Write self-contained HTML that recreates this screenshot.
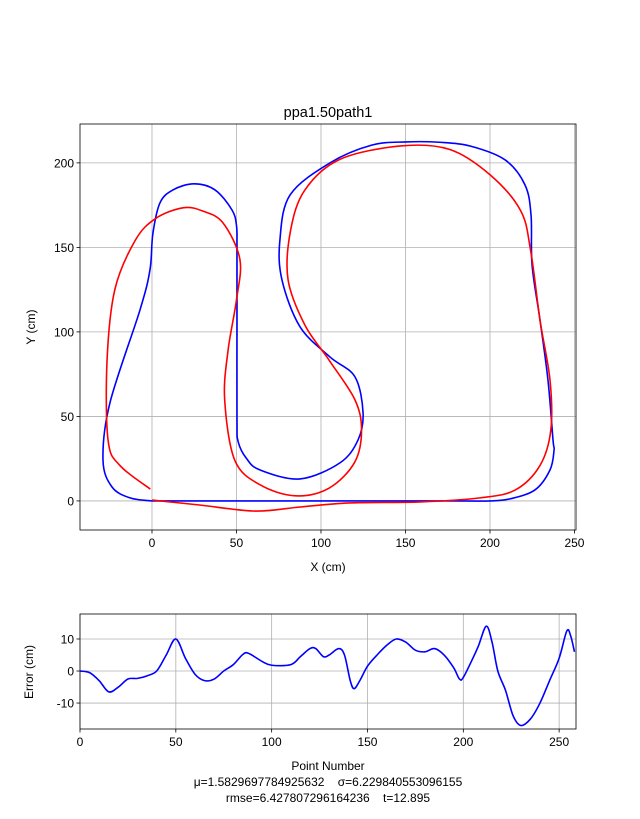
<!DOCTYPE html>
<html><head><meta charset="utf-8"><style>
body{margin:0;background:#fff;}
svg{display:block;font-family:"Liberation Sans","DejaVu Sans",sans-serif;}
</style></head><body>
<svg id="fig" width="640" height="819"></svg>
<script>
const blueX=[0,60,120,180,200,211.8,226.6,235.5,237.9,237.3,234.3,229.6,224.9,224.3,220.7,208.9,188.2,170,150.3,130,105.3,81.7,75.7,76.9,87.6,105.3,120.1,124.9,121.9,111.2,87.6,64,56,51,50.3,50.3,50.3,50,47.3,37.3,24.9,12.4,4.7,0.5,-1.2,-7.1,-24.9,-29,-23.7,-13,0];
const blueY=[0,0,0,0,0,1.2,6.5,18.3,30,36,71.6,107,139.6,169,187,201.8,210,212.2,212.4,210.5,200,181,154.4,130.8,103,85.2,73.4,52,36,22.5,13,18.3,25,35,48,100,150,163,172.2,184,187.6,184,176.3,158,136.7,113,58,24.3,8.3,1.8,0];
const redX=[-1,-19,-26,-26.6,-22,-10,2,18.3,30,42,52,50,45,43,49,64,85,105,120,124,120,105,90.5,80.5,82,90.5,111,147,176,200,218,224,229.6,235.5,236,229.6,215,194,158.6,117,87.6,61,28,0];
const redY=[7,21,36,83,125,154,167,173.4,171.5,164.5,143,119,89,60,24,9.5,3,7.7,23,42,60,83,104,131,160,184,202,210,208,193,172,148.5,107,71.6,42,21,6.5,1.8,-0.6,-1.2,-3.6,-6,-2.4,0.5];
const errN=[0,5,10,15,20,25,30,35,40,45,50,55,60,65,70,75,80,85,88,95,100,110,115,120,123,127,130,135,138,141,143,146,150,155,160,165,170,175,180,185,190,195,198,200,205,208,212,215,218,222,226,230,235,240,245,250,254,256,258];
const errV=[0,-0.5,-3,-6.5,-5,-2.5,-2.3,-1.5,0,5,10,4,-1,-3,-2.5,0,2,5.2,5.5,3,1.8,2,4.5,7,7,4.5,5,7,5,-3,-5.5,-3,1.5,5,8,10,9,6.5,6,7,5,1,-2.5,-2,4,8,14,9,0,-6,-14,-17,-15,-10,-3,4,12.5,11,6];
const xTicks1=[0,50,100,150,200,250], yTicks1=[0,50,100,150,200];
const xTicks2=[0,50,100,150,200,250], yTicks2=[-10,0,10];
const NS="http://www.w3.org/2000/svg", svg=document.getElementById('fig');
function el(t,a,txt){const e=document.createElementNS(NS,t);for(const k in a)e.setAttribute(k,a[k]);if(txt!==undefined)e.textContent=txt;svg.appendChild(e);return e;}
function smooth(pts){let d=`M${pts[0][0]},${pts[0][1]}`;for(let i=0;i<pts.length-1;i++){const p0=pts[Math.max(i-1,0)],p1=pts[i],p2=pts[i+1],p3=pts[Math.min(i+2,pts.length-1)];d+=` C${p1[0]+(p2[0]-p0[0])/6},${p1[1]+(p2[1]-p0[1])/6} ${p2[0]-(p3[0]-p1[0])/6},${p2[1]-(p3[1]-p1[1])/6} ${p2[0]},${p2[1]}`;}return d;}
const L1=80,R1=576,T1=124,B1=530,x0=-42.6,x1=250.9,y0=-17.2,y1=223;
const sx=v=>L1+(v-x0)/(x1-x0)*(R1-L1), sy=v=>B1-(v-y0)/(y1-y0)*(B1-T1);
xTicks1.forEach(t=>{let g=el('line',{x1:sx(t),x2:sx(t),y1:T1,y2:B1,stroke:'#b0b0b0','stroke-width':0.8});
el('line',{x1:sx(t),x2:sx(t),y1:B1,y2:B1+3.5,stroke:'#000','stroke-width':0.8});
let l=el('text',{x:sx(t),y:B1+17,'font-size':12,'text-anchor':'middle'},t);});
yTicks1.forEach(t=>{let g=el('line',{x1:L1,x2:R1,y1:sy(t),y2:sy(t),stroke:'#b0b0b0','stroke-width':0.8});
el('line',{x1:L1-3.5,x2:L1,y1:sy(t),y2:sy(t),stroke:'#000','stroke-width':0.8});
let l=el('text',{x:L1-6,y:sy(t)+4.5,'font-size':12,'text-anchor':'end'},t);});
let bp=el('path',{d:smooth(blueX.map((v,i)=>[sx(v),sy(blueY[i])])),fill:'none',stroke:'#0000ff','stroke-width':1.6});

let rp=el('path',{d:smooth(redX.map((v,i)=>[sx(v),sy(redY[i])])),fill:'none',stroke:'#ff0000','stroke-width':1.6});

let f1=el('rect',{x:L1,y:T1,width:R1-L1,height:B1-T1,fill:'none',stroke:'#000','stroke-width':0.8});
let tt=el('text',{x:328,y:117,'font-size':14.5,'text-anchor':'middle'},'ppa1.50path1');
let xl=el('text',{x:328,y:571,'font-size':12,'text-anchor':'middle'},'X (cm)');
let yl=el('text',{x:35,y:327,'font-size':12,'text-anchor':'middle',transform:'rotate(-90 35 327)'},'Y (cm)');
const L2=80,R2=576,T2=614,B2=729,n1=258.8,v0=-18.1,v1=17.8;
const ex=v=>L2+v/n1*(R2-L2), ey=v=>B2-(v-v0)/(v1-v0)*(B2-T2);
xTicks2.forEach(t=>{let g=el('line',{x1:ex(t),x2:ex(t),y1:T2,y2:B2,stroke:'#b0b0b0','stroke-width':0.8});
el('line',{x1:ex(t),x2:ex(t),y1:B2,y2:B2+3.5,stroke:'#000','stroke-width':0.8});
let l=el('text',{x:ex(t),y:B2+17,'font-size':12,'text-anchor':'middle'},t);});
yTicks2.forEach(t=>{let g=el('line',{x1:L2,x2:R2,y1:ey(t),y2:ey(t),stroke:'#b0b0b0','stroke-width':0.8});
el('line',{x1:L2-3.5,x2:L2,y1:ey(t),y2:ey(t),stroke:'#000','stroke-width':0.8});
let l=el('text',{x:L2-6,y:ey(t)+4.5,'font-size':12,'text-anchor':'end'},t);});
let ep=el('path',{d:smooth(errN.map((v,i)=>[ex(v),ey(errV[i])])),fill:'none',stroke:'#0000ff','stroke-width':1.6});

let f2=el('rect',{x:L2,y:T2,width:R2-L2,height:B2-T2,fill:'none',stroke:'#000','stroke-width':0.8});
let el2=el('text',{x:33,y:672,'font-size':12,'text-anchor':'middle',transform:'rotate(-90 33 672)'},'Error (cm)');
[['Point Number',770],['μ=1.5829697784925632    σ=6.229840553096155',786],['rmse=6.427807296164236    t=12.895',802]].forEach((a,i)=>{let t=el('text',{x:328,y:a[1],'font-size':12,'text-anchor':'middle','xml:space':'preserve'},a[0]);t.style.whiteSpace='pre';});
</script>
</body></html>
